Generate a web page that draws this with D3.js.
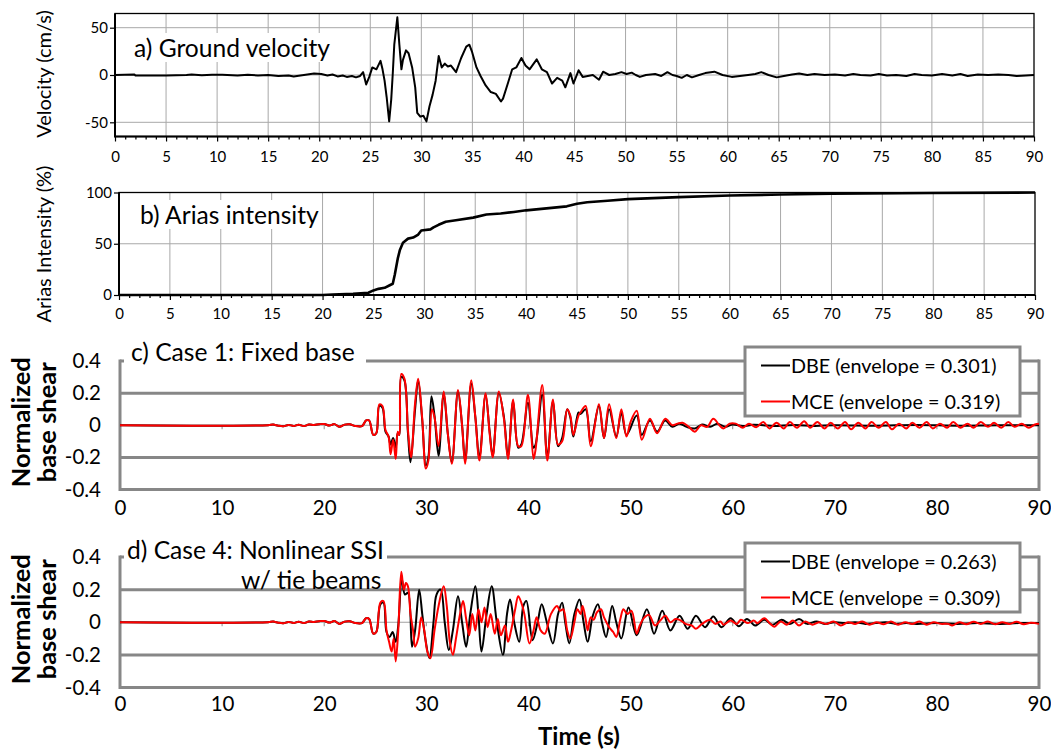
<!DOCTYPE html>
<html>
<head>
<meta charset="utf-8">
<script src="https://cdn.jsdelivr.net/npm/d3@7"></script>
<style>
  body { margin: 0; background: #fff; }
  svg text { font-family: Lato, "Open Sans", sans-serif; fill: #000; }
</style>
</head>
<body>
<svg id="chart" width="1051" height="749"></svg>
<script>
// ---------- data (time in s, value) ----------
const groundVelocity = [
  [0,0],[1.9,0.5],[2,-0.5],[5,-0.5],[7,0],[7.5,0.5],[8.5,-0.3],[9.5,0.3],[10.5,0.2],[12,-0.5],[13,0.3],[14,-0.5],
  [15,0],[16,-1],[17,-0.5],[17.5,-1.5],[18.5,0],[19.5,1.5],[20.2,1],[20.8,-0.5],[21.3,0.5],[21.8,-1.5],[22.3,-0.5],
  [22.7,-2],[23.2,-1],[23.6,-2.5],[24.0,-1],[24.3,3],[24.6,-10],[24.9,-2],[25.2,8],[25.6,6],[26.0,15],[26.2,6],
  [26.4,-6],[26.6,-23],[26.85,-49],[27.05,-26],[27.2,1],[27.35,32],[27.65,61],[27.85,32],[28.05,6],[28.2,16],
  [28.5,26],[28.75,23],[29.1,8],[29.4,-13],[29.6,-40],[29.9,-44],[30.2,-43],[30.5,-49],[30.8,-33],[31.1,-21],
  [31.4,-6],[31.7,20],[32.0,8],[32.3,12],[32.6,9],[32.9,10],[33.4,3],[33.9,18],[34.4,30],[34.7,32],[34.95,25],
  [35.4,8],[35.8,-1],[36.3,-11],[36.8,-18],[37.3,-20],[37.8,-28],[38.0,-25],[38.5,-8],[38.9,6],[39.3,8],[39.8,18],
  [40.2,10],[40.6,6],[41.3,16.5],[41.8,6],[42.3,3],[42.8,-9],[43.3,-3],[43.8,-6],[44.1,-13],[44.6,2],[44.9,-9],
  [45.4,5],[45.8,-2],[46.3,-1],[46.8,0],[47.4,-5],[47.8,3.5],[48.4,0],[49.0,1],[49.6,3],[50.1,1],[50.6,2.5],
  [51.0,0],[51.4,-2],[52.0,0],[52.9,1],[53.5,-1],[54.1,3],[54.6,0],[55.0,-1],[55.5,-3],[56.0,0],[56.5,-2.5],
  [57.2,0],[57.8,2],[58.7,3.5],[59.5,0],[60.4,-2],[61.2,-1],[62.0,0],[62.7,1],[63.3,3],[64.0,0],[64.8,-2.5],
  [65.5,-1],[66.3,0.5],[67.0,1.5],[67.8,0],[68.5,1],[69.5,0],[70.5,0.5],[71.5,-0.5],[72.3,1],[73.0,0],[74.0,-0.5],
  [74.8,1],[75.6,-0.5],[76.5,0],[77.5,-1],[78.3,1],[79.0,0],[80.0,-0.5],[81.0,1],[82.0,-0.5],[82.8,1],[83.5,-1],
  [84.5,0.5],[85.5,0],[86.5,0.5],[87.5,0],[88.3,-1],[89.2,-0.5],[90,0]
];

const ariasIntensity = [
  [0,0],[20,0],[21,0.5],[23,1.2],[24.5,2.2],[25,4.5],[25.5,6],[26.1,7],[26.6,9.5],[26.9,11],[27.1,20],[27.25,28],
  [27.4,36],[27.6,44],[27.9,51],[28.4,55],[28.9,56],[29.4,59],[29.7,63],[30.6,64],[30.9,66],[31.4,68.5],[32.1,71.5],
  [33.1,73],[34.8,75.5],[36.1,78.5],[37.5,79.5],[38.8,81],[40,82.6],[42,84.5],[44,86.5],[45,89],[46,90.5],[48,92],
  [50,93.5],[55,95.5],[60,97],[65,98],[70,98.8],[80,99.5],[90,100]
];

const fixedBaseDBE = [
  [0,0],[14.5,0],[15,0.004],[15.5,-0.003],[16,-0.006],[16.5,0.002],[17,-0.004],[17.5,0.003],[18,-0.005],[18.5,0.004],
  [19,0.002],[19.5,0.006],[20,0.008],[20.5,-0.002],[21,0.007],[21.5,-0.01],[22,0.004],[22.5,0.006],[23,-0.004],
  [23.7,-0.006],[24.1,0.03],[24.4,0.03],[24.8,-0.06],[25.1,-0.05],[25.4,0.12],[25.7,0.11],[26.0,-0.04],[26.3,-0.07],
  [26.5,-0.12],[26.75,-0.08],[27.0,-0.14],[27.2,-0.05],[27.35,-0.06],[27.55,0.301],[27.85,0.28],[28.2,-0.05],
  [28.45,-0.23],[28.9,0.1],[29.2,0.28],[29.6,0.03],[29.95,-0.25],[30.2,-0.2],[30.5,0.18],[30.8,0.06],[31.2,-0.19],
  [31.7,0.2],[32.1,-0.05],[32.5,-0.23],[33.1,0.21],[33.5,0],[33.8,-0.22],[34.4,0.26],[34.8,0.05],[35.2,-0.2],
  [35.8,0.19],[36.2,-0.04],[36.5,-0.19],[37.1,0.2],[37.6,0.05],[38.0,-0.2],[38.5,0.15],[39.0,-0.14],[39.3,-0.12],
  [39.95,0.14],[40.5,-0.14],[40.7,-0.12],[41.35,0.19],[41.85,-0.2],[42.4,0.15],[42.9,-0.13],[43.3,-0.08],[43.8,0.1],
  [44.1,0.05],[44.4,-0.07],[44.9,0.08],[45.1,0.07],[45.6,0.1],[46.1,-0.1],[46.9,0.12],[47.4,-0.08],[47.9,0.1],
  [48.6,-0.07],[49.1,0.08],[49.6,-0.06],[50.6,0.06],[51.1,-0.06],[51.9,0.03],[52.6,-0.04],[53.4,0.03],[54.1,-0.01],
  [54.8,0.01],[55.5,-0.01],[56.3,-0.02],[57,0.005],[57.8,-0.01],[58.5,0.01],[59.3,-0.01],[60,0.005],[61,-0.005],
  [62,0.003],[63,0],[64,-0.005],[66,0.002],[68,-0.004],[70,0],[74,-0.003],[78,0.002],[82,-0.003],[86,0],[90,0]
];

const fixedBaseMCE = [
  [0,0],[14.5,0],[15,0.004],[15.5,-0.003],[16,-0.006],[16.5,0.002],[17,-0.004],[17.5,0.003],[18,-0.005],[18.5,0.004],
  [19,0.002],[19.5,0.006],[20,0.008],[20.5,-0.002],[21,0.007],[21.5,-0.01],[22,0.004],[22.5,0.006],[23,-0.004],
  [23.7,-0.006],[24.1,0.03],[24.4,0.03],[24.8,-0.06],[25.1,-0.05],[25.4,0.13],[25.7,0.12],[26.0,-0.03],[26.3,-0.07],
  [26.5,-0.18],[26.75,-0.09],[27.0,-0.21],[27.2,-0.04],[27.35,-0.06],[27.55,0.319],[27.85,0.29],[28.2,-0.03],
  [28.5,-0.2],[28.9,0.14],[29.2,0.29],[29.6,0.04],[29.95,-0.27],[30.2,-0.22],[30.55,0.1],[30.8,0.05],[31.2,-0.13],
  [31.7,0.21],[32.1,-0.05],[32.5,-0.24],[33.1,0.22],[33.5,0.0],[33.8,-0.24],[34.4,0.28],[34.8,0.05],[35.2,-0.22],
  [35.8,0.2],[36.2,-0.05],[36.5,-0.2],[37.1,0.21],[37.6,0.04],[38.0,-0.21],[38.5,0.16],[39.0,-0.13],[39.3,-0.13],
  [39.95,0.19],[40.5,-0.21],[40.7,-0.15],[41.35,0.25],[41.85,-0.22],[42.4,0.16],[42.9,-0.12],[43.3,-0.1],[43.8,0.1],
  [44.1,0.06],[44.4,-0.06],[44.9,0.06],[45.1,0.08],[45.6,0.12],[46.1,-0.13],[46.9,0.13],[47.4,-0.08],[47.9,0.13],
  [48.6,-0.08],[49.1,0.1],[49.6,-0.07],[50.0,0.02],[50.6,0.09],[51.1,-0.09],[51.9,0.04],[52.6,-0.05],[53.4,0.04],
  [54.1,0.0],[54.6,0.01],[55.1,0.015],[55.7,-0.01],[56.3,-0.04],[56.9,0.0],[57.5,-0.01],[58.1,0.04],[58.7,0.0],
  [59.1,-0.02],[59.7,0.01],[60.3,0.01],[61.0,-0.015],[61.6,0.01],[62.3,-0.012],[63.0,0.02],[63.6,-0.02],[64.3,0.015],
  [65.0,-0.02],[65.6,0.02],[66.3,-0.015],[67.0,0.025],[67.6,-0.015],[68.3,0.02],[69.0,-0.02],[69.6,0.015],
  [70.3,-0.02],[71.0,0.02],[71.6,-0.025],[72.3,0.015],[73.0,-0.02],[73.6,0.02],[74.3,-0.015],[75.0,0.02],
  [75.6,-0.025],[76.3,0.01],[77.0,-0.02],[77.6,0.015],[78.3,-0.015],[79.0,0.02],[79.6,-0.02],[80.3,0.01],
  [81.0,-0.015],[81.6,0.02],[82.3,-0.015],[83.0,0.01],[83.6,-0.015],[84.3,0.02],[85.0,-0.01],[85.6,0.015],
  [86.3,-0.015],[87.0,0.02],[87.6,-0.01],[88.3,0.01],[89.0,-0.015],[89.6,0.005],[90,0.01]
];

const ssiTieBeamDBE = [
  [0,0],[14.5,0],[15,0.004],[15.5,-0.003],[16,-0.006],[16.5,0.002],[17,-0.004],[17.5,0.003],[18,-0.005],[18.5,0.004],
  [19,0.002],[19.5,0.006],[20,0.008],[20.5,-0.002],[21,0.007],[21.5,-0.01],[22,0.004],[22.5,0.006],[23,-0.004],
  [23.7,-0.005],[24.1,0.025],[24.4,0.02],[24.8,-0.07],[25.1,-0.06],[25.5,0.11],[25.8,0.12],[26.1,-0.06],[26.4,-0.09],
  [26.7,-0.06],[27.0,-0.12],[27.25,-0.02],[27.6,0.263],[27.9,0.17],[28.2,0.18],[28.6,-0.15],[28.9,-0.05],[29.3,0.2],
  [29.6,0.05],[29.9,-0.1],[30.3,-0.22],[30.7,0.0],[31.0,0.17],[31.4,0.2],[31.8,0.0],[32.2,-0.17],[32.6,-0.05],
  [33.1,0.16],[33.5,0.0],[33.9,-0.15],[34.3,0.05],[34.8,0.22],[35.1,0.05],[35.4,-0.18],[35.9,0.05],[36.4,0.22],
  [36.9,0.0],[37.5,-0.2],[37.9,0.05],[38.2,0.14],[38.6,0.0],[39.1,-0.12],[39.5,0.1],[39.8,0.13],[40.4,-0.11],
  [40.9,0.0],[41.3,0.11],[41.8,0.0],[42.4,-0.13],[42.9,0.05],[43.3,0.12],[43.6,0.0],[44.0,-0.13],[44.5,0.05],
  [45.0,0.14],[45.4,0.0],[45.8,-0.12],[46.3,0.04],[46.8,0.11],[47.2,0.0],[47.6,-0.09],[48.2,0.1],[48.6,0.0],
  [49.1,-0.1],[49.8,0.09],[50.6,-0.08],[51.6,0.08],[52.3,-0.07],[53.1,0.07],[53.9,-0.05],[54.8,0.04],[55.6,-0.04],
  [56.4,0.04],[57.3,-0.03],[58.1,0.035],[58.9,-0.03],[59.8,0.025],[60.6,-0.025],[61.4,0.02],[62.2,-0.02],
  [63.1,0.015],[63.9,-0.015],[64.8,0.015],[65.6,-0.01],[66.5,0.02],[67.3,-0.01],[68.2,0.005],[69.0,-0.01],[70,0.0],
  [71,-0.005],[72,0.0],[73,-0.01],[74,-0.005],[75,0.0],[76,-0.01],[77,-0.005],[78,-0.01],[80,-0.005],[82,-0.01],
  [84,-0.005],[86,-0.01],[88,-0.005],[90,-0.005]
];

const ssiTieBeamMCE = [
  [0,0],[14.5,0],[15,0.004],[15.5,-0.003],[16,-0.006],[16.5,0.002],[17,-0.004],[17.5,0.003],[18,-0.005],[18.5,0.004],
  [19,0.002],[19.5,0.006],[20,0.008],[20.5,-0.002],[21,0.007],[21.5,-0.01],[22,0.004],[22.5,0.006],[23,-0.004],
  [23.7,-0.005],[24.1,0.025],[24.4,0.02],[24.8,-0.07],[25.1,-0.06],[25.5,0.12],[25.8,0.13],[26.1,-0.05],[26.35,-0.12],
  [26.6,-0.18],[26.8,-0.1],[27.0,-0.24],[27.25,-0.05],[27.55,0.309],[27.8,0.2],[28.0,0.24],[28.2,0.22],[28.45,0.05],
  [28.7,-0.05],[28.9,-0.15],[29.2,-0.1],[29.5,0.03],[29.8,-0.05],[30.1,-0.18],[30.4,-0.22],[30.8,-0.05],[31.2,0.1],
  [31.7,0.22],[32.0,0.1],[32.3,-0.12],[32.6,-0.2],[32.9,-0.1],[33.3,0.05],[33.6,0.13],[33.9,0.02],[34.2,-0.08],
  [34.5,0.05],[34.8,-0.05],[35.1,0.08],[35.4,0.0],[35.7,0.09],[36.0,-0.03],[36.3,0.05],[36.7,-0.07],[37.0,0.02],
  [37.3,-0.08],[37.7,-0.02],[38.0,-0.12],[38.3,-0.05],[38.7,0.08],[39.0,0.16],[39.3,0.12],[39.6,0.05],[40.1,-0.13],
  [40.5,-0.05],[40.8,0.03],[41.2,-0.05],[41.6,-0.07],[42.2,0.05],[42.8,0.1],[43.1,0.07],[43.4,0.08],[43.8,-0.05],
  [44.1,-0.1],[44.5,0.0],[44.8,0.08],[45.1,0.05],[45.3,0.1],[45.6,0.02],[45.8,-0.05],[46.1,0.03],[46.4,0.015],
  [46.7,0.06],[47.1,0.08],[47.4,0.03],[47.9,-0.03],[48.3,-0.06],[48.6,-0.09],[49.0,0.02],[49.3,0.08],[49.7,0.05],
  [50.1,0.07],[50.6,-0.07],[50.9,-0.02],[51.3,0.025],[51.8,0.045],[52.4,-0.02],[52.9,0.01],[53.4,0.04],[53.9,0.0],
  [54.4,0.02],[54.8,0.015],[55.4,-0.01],[56.0,-0.02],[56.4,-0.04],[57.0,-0.01],[57.8,0.015],[58.3,-0.01],[58.8,0.005],
  [59.1,-0.015],[59.8,0.01],[60.4,-0.01],[60.8,0.015],[61.5,-0.005],[62.1,0.01],[62.4,-0.006],[63.1,0.025],
  [63.7,-0.01],[64.1,-0.027],[64.7,0.005],[65.3,-0.015],[65.9,0.01],[66.5,-0.02],[67.1,0.005],[67.8,-0.015],
  [68.5,0.0],[69.2,-0.01],[69.9,0.005],[70.6,-0.02],[71.3,0.0],[72.0,-0.01],[72.7,0.005],[73.4,-0.015],[74.1,0.0],
  [74.8,-0.012],[75.5,0.005],[76.2,-0.015],[76.9,0.0],[77.6,-0.01],[78.3,0.005],[79.0,-0.015],[79.7,0.0],
  [80.4,-0.01],[81.1,-0.01],[81.5,-0.02],[82.2,0.0],[82.9,-0.012],[83.6,0.003],[84.3,-0.01],[85.0,0.005],
  [85.7,-0.012],[86.4,0.0],[87.1,-0.01],[87.8,0.003],[88.5,-0.012],[89.2,-0.003],[90,-0.01]
];

// ---------- tick values ----------
const timeTicks5 = [0,5,10,15,20,25,30,35,40,45,50,55,60,65,70,75,80,85,90];
const timeTicks10 = [0,10,20,30,40,50,60,70,80,90];
const velocityTicks = [-50,0,50];
const ariasTicks = [0,50,100];
const shearTicks = [-0.4,-0.2,0,0.2,0.4];

const legendLabels = {
  fixed: ["DBE (envelope = 0.301)", "MCE (envelope = 0.319)"],
  ssi:   ["DBE (envelope = 0.263)", "MCE (envelope = 0.309)"]
};

const svg = d3.select("#chart");
const TITLE_SIZE = 24.6;

// ---------- panels a & b ----------
function topPanel(o) {
  const x = d3.scaleLinear([0, 90], [o.left, o.right]);
  const y = d3.scaleLinear(o.yDomain, [o.bottom, o.top]);
  const g = svg.append("g");

  const grid = g.append("g").attr("stroke", "#a8a8a8").attr("stroke-width", 1);
  grid.selectAll("line.v").data(timeTicks5.slice(1, -1)).join("line").attr("class", "v")
    .attr("x1", d => x(d)).attr("x2", d => x(d)).attr("y1", o.top).attr("y2", o.bottom);
  grid.selectAll("line.h").data(o.yTicks.filter(v => v > o.yDomain[0] && v < o.yDomain[1])).join("line").attr("class", "h")
    .attr("x1", o.left).attr("x2", o.right).attr("y1", d => y(d)).attr("y2", d => y(d));

  // title with white backing
  const t = g.append("text").attr("x", o.titleX).attr("y", o.titleY)
    .attr("font-size", TITLE_SIZE).text(o.title);
  const bb = t.node().getBBox();
  g.insert("rect", "text").attr("x", bb.x - 3).attr("y", bb.y)
    .attr("width", bb.width + 6).attr("height", bb.height).attr("fill", "#fff");

  g.append("path").datum(o.data)
    .attr("fill", "none").attr("stroke", "#000").attr("stroke-width", o.lineWidth)
    .attr("stroke-linejoin", "round")
    .attr("d", d3.line().x(d => x(d[0])).y(d => y(d[1])));

  // frame
  g.append("rect").attr("x", o.left).attr("y", o.top).attr("width", o.right - o.left)
    .attr("height", o.bottom - o.top).attr("fill", "none").attr("stroke", "#000").attr("stroke-width", 1.3);
  g.append("path").attr("d", `M${o.left},${o.top}V${o.bottom}H${o.right}`)
    .attr("fill", "none").attr("stroke", "#000").attr("stroke-width", 2);

  const xa = g.append("g").attr("transform", `translate(0,${o.bottom})`)
    .call(d3.axisBottom(x).tickValues(timeTicks5).tickSize(5).tickPadding(o.xPad).tickFormat(d => String(d)));
  const xm = g.append("g").attr("transform", `translate(0,${o.bottom})`)
    .call(d3.axisBottom(x).tickValues(d3.range(1, 90).filter(v => v % 5)).tickSize(3).tickFormat(""));
  const ya = g.append("g").attr("transform", `translate(${o.left},0)`)
    .call(d3.axisLeft(y).tickValues(o.yTicks).tickSize(5).tickPadding(2).tickFormat(d => String(d)));
  [xa, xm, ya].forEach(a => {
    a.select(".domain").remove();
    a.selectAll("line").attr("stroke", "#000").attr("stroke-width", 1.2);
    a.selectAll("text").attr("font-family", "'DejaVu Serif', serif").attr("font-size", 15).attr("fill", "#000");
  });

  g.append("text").attr("transform", `translate(${o.labelX},${o.labelY}) rotate(-90)`)
    .attr("text-anchor", "middle").attr("font-size", 20).text(o.yLabel);
}

topPanel({
  left: 115, right: 1034, top: 13.5, bottom: 136.5, yDomain: [-65, 65], yTicks: velocityTicks,
  data: groundVelocity, lineWidth: 2, title: "a) Ground velocity", titleX: 134, titleY: 57,
  yLabel: "Velocity (cm/s)", labelX: 51, labelY: 74, xPad: 10
});
topPanel({
  left: 119, right: 1035, top: 192.5, bottom: 295, yDomain: [0, 100], yTicks: ariasTicks,
  data: ariasIntensity, lineWidth: 2.6, title: "b) Arias intensity", titleX: 140, titleY: 224,
  yLabel: "Arias Intensity (%)", labelX: 51, labelY: 244, xPad: 8
});

// ---------- panels c & d ----------
const shearFmt = d => d === 0 ? "0" : d.toFixed(1);

function shearPanel(o) {
  const x = d3.scaleLinear([0, 90], [120, 1039]);
  const y = d3.scaleLinear([-0.4, 0.4], [o.bottom, o.top]);
  const g = svg.append("g");

  g.append("line").attr("x1", x(0)).attr("x2", x(90)).attr("y1", y(0)).attr("y2", y(0))
    .attr("stroke", "#a0a0a0").attr("stroke-width", 1.2);
  g.selectAll("line.zt").data(timeTicks10.slice(1, -1)).join("line").attr("class", "zt")
    .attr("x1", d => x(d)).attr("x2", d => x(d)).attr("y1", y(0)).attr("y2", y(0) + 4)
    .attr("stroke", "#a0a0a0").attr("stroke-width", 1.2);
  g.selectAll("line.gl").data([-0.2, 0.2, 0.4]).join("line").attr("class", "gl")
    .attr("x1", x(0)).attr("x2", x(90)).attr("y1", d => y(d)).attr("y2", d => y(d))
    .attr("stroke", "#878787").attr("stroke-width", 3);
  g.append("path").attr("d", `M${x(0)},${y(0.4) - 1.5}V${y(-0.4)}H${x(90)}V${y(0.4) - 1.5}`)
    .attr("fill", "none").attr("stroke", "#878787").attr("stroke-width", 3);

  const line = d3.line().curve(d3.curveCatmullRom.alpha(0.5)).x(d => x(d[0])).y(d => y(d[1]));
  [[o.dbe, "#000"], [o.mce, "#ff0000"]].forEach(([data, color]) => {
    g.append("path").datum(data).attr("fill", "none").attr("stroke", color)
      .attr("stroke-width", 2).attr("stroke-linejoin", "round").attr("d", line);
  });

  // title
  g.append("rect").attr("x", 124).attr("y", o.top - 30).attr("width", o.titleBoxEnd - 124)
    .attr("height", 32).attr("fill", "#fff");
  o.title.forEach((s, i) => {
    g.append("text").attr("x", o.titleX[i]).attr("y", o.titleY[i]).attr("font-size", TITLE_SIZE).text(s);
  });

  // legend
  const lg = g.append("g");
  lg.append("rect").attr("x", 745).attr("y", o.legendTop).attr("width", 275).attr("height", 69)
    .attr("fill", "#fff").attr("stroke", "#878787").attr("stroke-width", 3);
  o.legend.forEach((s, i) => {
    const cy = o.legendTop + 18.5 + i * 36;
    lg.append("line").attr("x1", 761).attr("x2", 790).attr("y1", cy).attr("y2", cy)
      .attr("stroke", i ? "#ff0000" : "#000").attr("stroke-width", 2);
    lg.append("text").attr("x", 791).attr("y", cy + 7.2).attr("font-size", 19.8).text(s);
  });

  const ya = g.append("g").attr("transform", `translate(${x(0)},0)`)
    .call(d3.axisLeft(y).tickValues(shearTicks).tickSize(0).tickPadding(19).tickFormat(shearFmt));
  const xa = g.append("g").attr("transform", `translate(0,${o.bottom})`)
    .call(d3.axisBottom(x).tickValues(timeTicks10).tickSize(0).tickPadding(o.xPad).tickFormat(d => String(d)));
  [ya, xa].forEach(a => {
    a.select(".domain").remove();
    a.selectAll("text").attr("font-family", "Lato, sans-serif").attr("font-size", 20.5).attr("fill", "#000");
  });

  const cy = (o.top + o.bottom) / 2 - 3;
  g.append("text").attr("transform", `translate(30,${cy}) rotate(-90)`)
    .attr("text-anchor", "middle").attr("font-size", 25.5).attr("font-weight", "bold").text("Normalized");
  g.append("text").attr("transform", `translate(56,${cy}) rotate(-90)`)
    .attr("text-anchor", "middle").attr("font-size", 25.5).attr("font-weight", "bold").text("base shear");
}

shearPanel({
  top: 361, bottom: 489.5, dbe: fixedBaseDBE, mce: fixedBaseMCE,
  title: ["c) Case 1: Fixed base"], titleX: [131], titleY: [361], titleBoxEnd: 366,
  legend: legendLabels.fixed, legendTop: 347, xPad: 11
});
shearPanel({
  top: 557, bottom: 687.5, dbe: ssiTieBeamDBE, mce: ssiTieBeamMCE,
  title: ["d) Case 4: Nonlinear SSI", "w/ tie beams"], titleX: [127, 241], titleY: [559, 589], titleBoxEnd: 387,
  legend: legendLabels.ssi, legendTop: 543, xPad: 9
});

svg.append("text").attr("x", 579).attr("y", 745).attr("text-anchor", "middle")
  .attr("font-size", 24).attr("font-weight", "bold").text("Time (s)");
</script>
</body>
</html>
